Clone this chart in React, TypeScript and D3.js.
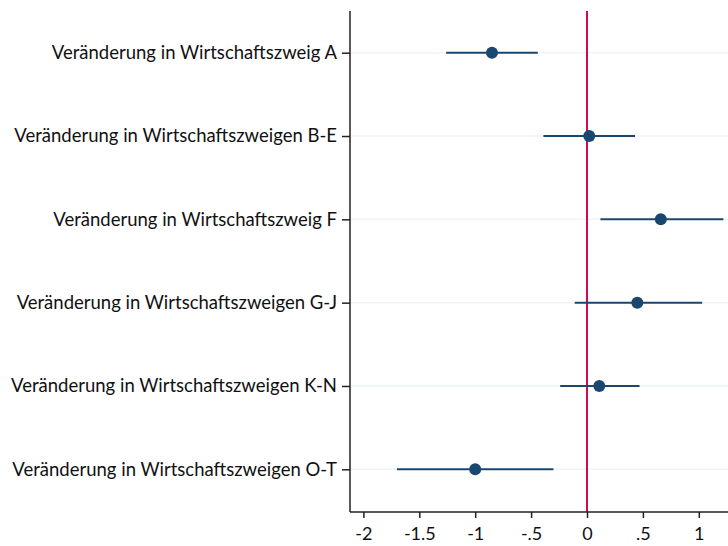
import * as d3 from 'd3'
import { useEffect, useRef } from 'react'

const labels = [
  'Veränderung in Wirtschaftszweig A',
  'Veränderung in Wirtschaftszweigen B-E',
  'Veränderung in Wirtschaftszweig F',
  'Veränderung in Wirtschaftszweigen G-J',
  'Veränderung in Wirtschaftszweigen K-N',
  'Veränderung in Wirtschaftszweigen O-T',
]
const estimates = [-0.85, 0.02, 0.66, 0.45, 0.11, -1.0]
const lower = [-1.26, -0.39, 0.12, -0.11, -0.24, -1.70]
const upper = [-0.44, 0.43, 1.22, 1.03, 0.47, -0.30]
const xTicks = [-2, -1.5, -1, -0.5, 0, 0.5, 1]
const tickText = ['-2', '-1.5', '-1', '-.5', '0', '.5', '1']

export default function App() {
  const ref = useRef(null)
  const width = 728
  const height = 546

  useEffect(() => {
    const svg = d3.select(ref.current)
    svg.selectAll('*').remove()

    const left = 350
    const top = 11
    const bottom = 512
    const font = 'Lato, "Open Sans", sans-serif'

    const x = d3.scaleLinear().domain([0, 1]).range([587, 698.8])
    const y = d3.scalePoint().domain(labels).range([52.7, 469.3])

    // faint row gridlines
    svg.append('g')
      .selectAll('line')
      .data(labels)
      .join('line')
      .attr('x1', left).attr('x2', width)
      .attr('y1', (d) => y(d)).attr('y2', (d) => y(d))
      .attr('stroke', '#f0f4f5').attr('stroke-width', 1.5)

    // reference line at 0
    svg.append('line')
      .attr('x1', x(0)).attr('x2', x(0))
      .attr('y1', top).attr('y2', bottom)
      .attr('stroke', '#d2094a').attr('stroke-width', 2)

    // axes
    const yAxis = svg.append('g')
      .attr('transform', `translate(${left},0)`)
      .call(d3.axisLeft(y).tickSize(8).tickPadding(5))
    yAxis.select('.domain').attr('d', `M0,${top}V${bottom}`).attr('stroke', '#222').attr('stroke-width', 1.5)
    yAxis.selectAll('.tick line').attr('stroke', '#222').attr('stroke-width', 1.5)
    yAxis.selectAll('.tick text')
      .attr('font-family', font).attr('font-size', 18.5).attr('fill', '#111')

    const xAxis = svg.append('g')
      .attr('transform', `translate(0,${bottom})`)
      .call(d3.axisBottom(x).tickValues(xTicks).tickSize(6).tickPadding(9)
        .tickFormat((d, i) => tickText[i]))
    xAxis.select('.domain').attr('d', `M${left},0H${width}`).attr('stroke', '#222').attr('stroke-width', 1.5)
    xAxis.selectAll('.tick line').attr('stroke', '#222').attr('stroke-width', 1.5)
    xAxis.selectAll('.tick text')
      .attr('font-family', font).attr('font-size', 18).attr('fill', '#111')

    // confidence intervals
    svg.append('g')
      .selectAll('line')
      .data(labels)
      .join('line')
      .attr('x1', (d, i) => x(lower[i])).attr('x2', (d, i) => x(upper[i]))
      .attr('y1', (d) => y(d)).attr('y2', (d) => y(d))
      .attr('stroke', '#1a476f').attr('stroke-width', 2)

    // point estimates
    svg.append('g')
      .selectAll('circle')
      .data(labels)
      .join('circle')
      .attr('cx', (d, i) => x(estimates[i]))
      .attr('cy', (d) => y(d))
      .attr('r', 6)
      .attr('fill', '#1a476f')
  }, [])

  return (
    <svg ref={ref} width={width} height={height}
      style={{ position: 'absolute', left: 0, top: 0, background: '#fff' }} />
  )
}
